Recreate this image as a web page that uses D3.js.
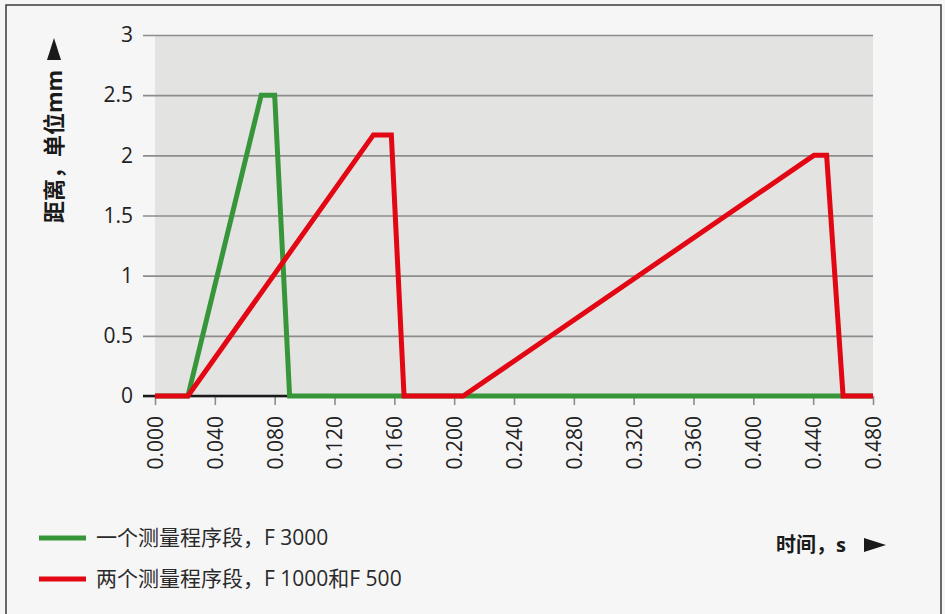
<!DOCTYPE html>
<html>
<head>
<meta charset="utf-8">
<script src="https://cdn.jsdelivr.net/npm/d3@7"></script>
<style>
  body { margin: 0; background: #f6f6f6; }
  text { font-family: "Open Sans", "Noto Sans CJK SC", sans-serif; }
</style>
</head>
<body>
<div class="chart"></div>
<script>
// data
const greenName = "一个测量程序段，F 3000";
const redName = "两个测量程序段，F 1000和F 500";
const greenT = [0, 0.022, 0.071, 0.080, 0.090, 0.480];
const greenD = [0, 0, 2.5, 2.5, 0, 0];
const redT = [0, 0.022, 0.146, 0.158, 0.1665, 0.206, 0.4405, 0.449, 0.460, 0.480];
const redD = [0, 0, 2.17, 2.17, 0, 0, 2.0, 2.0, 0, 0];
const xTicks = [0, 0.04, 0.08, 0.12, 0.16, 0.2, 0.24, 0.28, 0.32, 0.36, 0.4, 0.44, 0.48];
const yTicks = [0, 0.5, 1, 1.5, 2, 2.5, 3];

const W = 945, H = 614;
const margin = ({top: 35, right: 72, bottom: 218, left: 155});
const width = W - margin.left - margin.right, height = H - margin.top - margin.bottom;

const root = d3.select('.chart')
               .append('svg')
               .attr('width', W)
               .attr('height', H);

// frame
root.append('rect')
    .attr('x', 6).attr('y', 5)
    .attr('width', 935).attr('height', 620)
    .attr('fill', '#f6f6f6')
    .attr('stroke', '#3a3a3a')
    .attr('stroke-width', 1.5);

const svg = root.append('g')
                .attr('transform', `translate(${margin.left},${margin.top})`);

const x = d3.scaleLinear().domain([0, 0.48]).range([0, width]);
const y = d3.scaleLinear().domain([0, 3]).range([height, 0]);

svg.append('rect')
   .attr('width', width).attr('height', height)
   .attr('fill', '#e3e3e2');

// horizontal grid + y labels
const yAxis = d3.axisLeft(y)
                .tickValues(yTicks)
                .tickSize(0)
                .tickFormat(d => d3.format('')(d));

svg.append('g')
   .attr('class', 'y-axis')
   .call(yAxis)
   .call(g => g.select('.domain').remove())
   .call(g => g.selectAll('.tick line')
               .attr('x1', -12)
               .attr('x2', width)
               .attr('stroke', '#8c8c8c')
               .attr('stroke-width', 1.6))
   .call(g => g.selectAll('.tick text')
               .attr('x', -22)
               .attr('font-size', 21)
               .attr('fill', '#222'));

const xAxis = d3.axisBottom(x)
                .tickValues(xTicks)
                .tickSize(9)
                .tickFormat(d3.format('.3f'));

svg.append('g')
   .attr('class', 'x-axis')
   .attr('transform', `translate(0,${height})`)
   .call(xAxis)
   .call(g => g.select('.domain').remove())
   .call(g => g.selectAll('.tick line')
               .attr('stroke', '#8c8c8c')
               .attr('stroke-width', 1.6))
   .call(g => g.selectAll('.tick text')
               .attr('transform', 'rotate(-90)')
               .attr('x', -20)
               .attr('y', 0)
               .attr('dy', '0.35em')
               .attr('text-anchor', 'end')
               .attr('font-size', 21)
               .attr('fill', '#222'));

// black baseline
svg.append('line')
   .attr('x1', -12).attr('x2', width)
   .attr('y1', y(0)).attr('y2', y(0))
   .attr('stroke', '#1a1a1a')
   .attr('stroke-width', 2.5);

const line = d3.line().x(d => x(d[0])).y(d => y(d[1]));

svg.append('path')
   .datum(greenT.map((t, i) => [t, greenD[i]]))
   .attr('d', line)
   .attr('fill', 'none')
   .attr('stroke', '#38963a')
   .attr('stroke-width', 5)
   .attr('stroke-linejoin', 'miter');

svg.append('path')
   .datum(redT.map((t, i) => [t, redD[i]]))
   .attr('d', line)
   .attr('fill', 'none')
   .attr('stroke', '#e30613')
   .attr('stroke-width', 5)
   .attr('stroke-linejoin', 'miter');

// y title
root.append('text')
    .attr('transform', 'translate(62,223) rotate(-90)')
    .attr('font-size', 22)
    .attr('font-weight', 'bold')
    .attr('fill', '#1a1a1a')
    .attr('font-family', '"Noto Sans CJK SC", sans-serif')
    .text('距离，单位mm');
root.append('path')
    .attr('d', 'M47,60 L61,60 L54,38 Z')
    .attr('fill', '#1a1a1a');

// x title
root.append('text')
    .attr('x', 776).attr('y', 552)
    .attr('font-size', 20)
    .attr('font-weight', 'bold')
    .attr('fill', '#1a1a1a')
    .attr('font-family', '"Noto Sans CJK SC", sans-serif')
    .text('时间，s');
root.append('path')
    .attr('d', 'M864,538 L864,552 L886,545 Z')
    .attr('fill', '#1a1a1a');

// legend
const legend = [[greenName, '#38963a', 538], [redName, '#e30613', 579]];
legend.forEach(([name, color, ly]) => {
  root.append('line')
      .attr('x1', 39).attr('x2', 86)
      .attr('y1', ly).attr('y2', ly)
      .attr('stroke', color)
      .attr('stroke-width', 5);
  root.append('text')
      .attr('x', 96).attr('y', ly + 7)
      .attr('font-size', 21)
      .attr('fill', '#2a2a2a')
      .attr('font-family', '"Noto Sans CJK SC", sans-serif')
      .text(name);
});
</script>
</body>
</html>
